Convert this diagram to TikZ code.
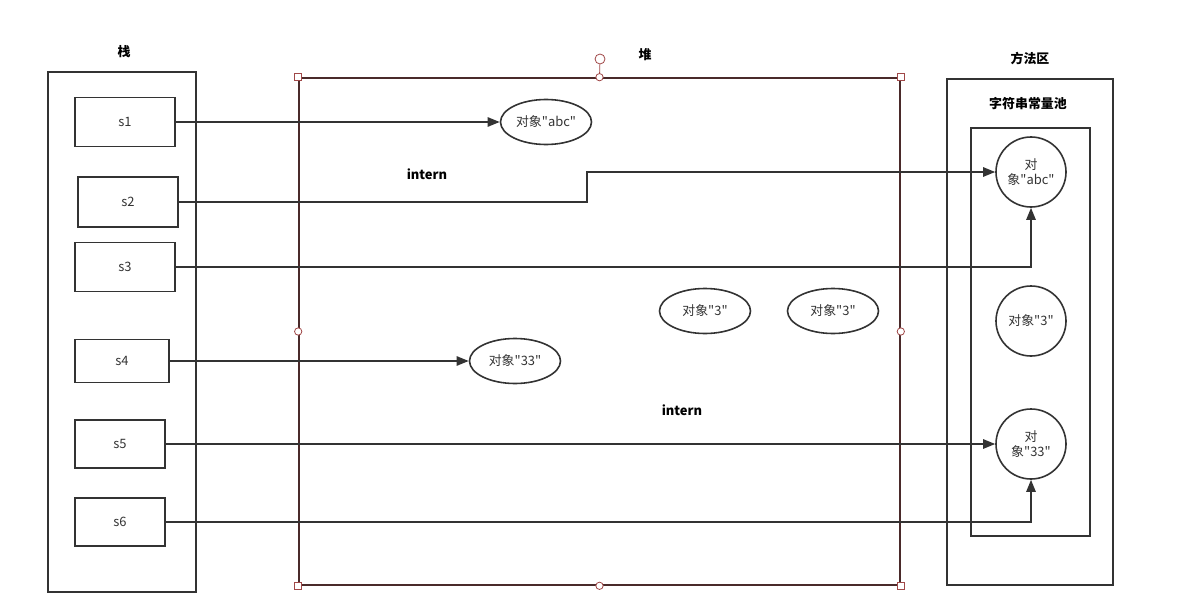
\documentclass[tikz,border=0pt]{standalone}
\usepackage{fontspec}
\newfontfamily\cjkfont{Noto Sans CJK SC}
\usetikzlibrary{arrows.meta,positioning,shapes.geometric}
\definecolor{lineGray}{HTML}{333333}
\definecolor{heapBrown}{HTML}{4A2A2A}
\definecolor{handleRed}{HTML}{A04848}

\begin{document}
\begin{tikzpicture}[x=0.75pt, y=-0.75pt,
        font=\cjkfont\fontsize{9.7}{11.5}\selectfont,
        area/.style={draw=lineGray, line width=1.2pt, inner sep=0pt},
        var/.style={draw=lineGray, line width=1.2pt, inner sep=0pt,
                    minimum height=36.75pt, text=lineGray},
        obj/.style={ellipse, draw=lineGray, line width=1.2pt, inner sep=0pt,
                    minimum width=68.25pt, minimum height=33.75pt, text=lineGray},
        pooled/.style={circle, draw=lineGray, line width=1.2pt, inner sep=0pt,
                       minimum size=52.5pt, align=center, text=lineGray},
        title/.style={font=\cjkfont\fontsize{9.7}{11.5}\selectfont\bfseries},
        arr/.style={-{Triangle[length=9pt,width=7pt]}, line width=1.2pt, lineGray},
        sqhandle/.style={draw=handleRed, fill=white, line width=0.6pt,
                         minimum size=5.5pt, inner sep=0pt},
        cirhandle/.style={circle, draw=handleRed, fill=white, line width=0.6pt,
                          minimum size=5.5pt, inner sep=0pt},
    ]
    \useasboundingbox (0,0) rectangle (1185,610);

    % stack
    \node[area, minimum width=111pt, minimum height=390pt] (stack) at (122,332) {};
    \node[title] (stackLabel) at (124,52) {栈};
    \node[var, minimum width=75pt] (s1) at (125,122) {s1};
    \node[var, minimum width=75pt, minimum height=37.5pt] (s2) at (128,202) {s2};
    \node[var, minimum width=75pt] (s3) at (125,267) {s3};
    \node[var, minimum width=70.5pt, minimum height=32.25pt] (s4) at (122,361) {s4};
    \node[var, minimum width=67.5pt, minimum height=36pt] (s5) at (120,444) {s5};
    \node[var, minimum width=67.5pt, minimum height=36pt] (s6) at (120,522) {s6};

    % heap
    \node[draw=heapBrown, line width=1.2pt, inner sep=0pt,
          minimum width=450.75pt, minimum height=380.25pt] (heap) at (599.5,331.5) {};
    \node[title] (heapLabel) at (645,55) {堆};
    \node[obj] (objAbc) at (546,122) {对象"abc"};
    \node[obj] (objThreeA) at (705,311) {对象"3"};
    \node[obj] (objThreeB) at (833,311) {对象"3"};
    \node[obj] (obj33) at (515,361) {对象"33"};
    \node[title] (internA) at (427,174) {intern};
    \node[title] (internB) at (682,410) {intern};

    % method area
    \node[area, minimum width=124.5pt, minimum height=379.5pt] (method) at (1030,332) {};
    \node[title] (methodLabel) at (1030,59) {方法区};
    \node[title] (poolLabel) at (1028,104) {字符串常量池};
    \node[area, minimum width=89.25pt, minimum height=306pt] (pool) at (1030.5,332) {};
    \node[pooled] (poolAbc) at (1031,172) {对\\象"abc"};
    \node[pooled] (poolThree) at (1031,321) {对象"3"};
    \node[pooled] (pool33) at (1031,444) {对\\象"33"};

    % references
    \coordinate (bend) at (587,190);
    \draw[arr] (s1.east) -- (objAbc.west);
    \draw[arr] (s2.east) -| (bend) |- (poolAbc.west);
    \draw[arr] (s3.east) -| (poolAbc.south);
    \draw[arr] (s4.east) -- (obj33.west);
    \draw[arr] (s5.east) -- (pool33.west);
    \draw[arr] (s6.east) -| (pool33.south);

    % selection handles on the heap
    \node[cirhandle, minimum size=7.5pt] (rot) at (600,59) {};
    \draw[handleRed, line width=0.6pt] (rot) -- (heap.north);
    \foreach \c in {north west, north east, south west, south east}
        \node[sqhandle] at (heap.\c) {};
    \foreach \c in {north, south, west, east}
        \node[cirhandle] at (heap.\c) {};
\end{tikzpicture}
\end{document}
